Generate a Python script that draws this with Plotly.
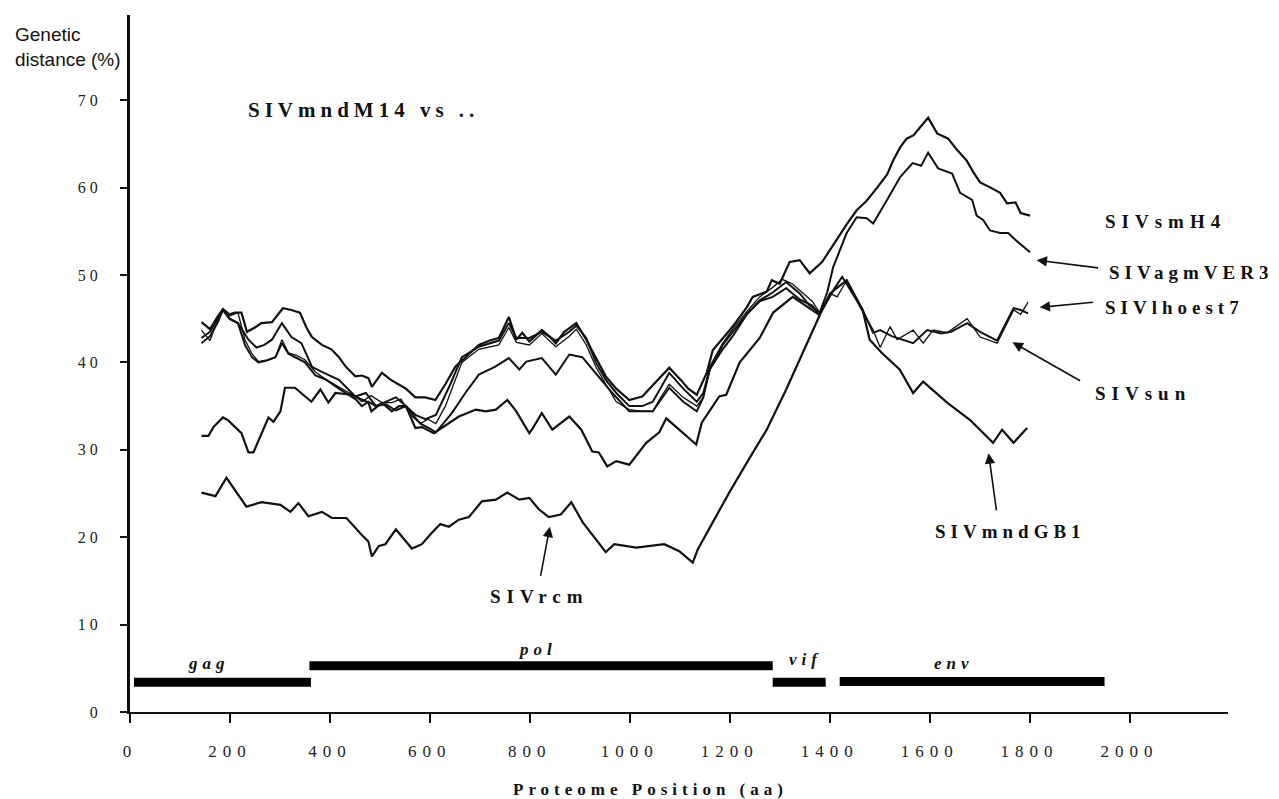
import plotly.graph_objects as go

# ---------------- data ----------------
smH4_x = [143,160,175,186,199,210,223,234,250,263,284,306,323,340,353,364,384,403,418,432,451,464,477,484,504,522,537,552,571,591,611,631,651,671,698,720,738,758,773,785,799,811,824,839,852,869,893,913,932,952,973,999,1025,1048,1079,1102,1117,1134,1154,1166,1186,1206,1234,1246,1274,1284,1300,1320,1340,1360,1385,1407,1434,1454,1474,1495,1515,1527,1541,1554,1568,1581,1597,1615,1637,1655,1674,1687,1701,1722,1741,1755,1772,1782,1801]
smH4_y = [44.6,43.8,45.2,46.1,45.5,45.7,45.7,43.5,44.0,44.5,44.6,46.2,46.0,45.7,44.0,42.9,42.0,41.5,40.6,39.5,38.4,38.5,38.2,37.2,38.8,38.0,37.5,37.0,36.0,36.0,35.7,37.5,39.5,40.6,42.0,42.5,42.8,45.2,42.6,43.4,42.4,43.0,43.7,43.0,42.2,43.5,44.5,42.6,40.5,38.4,37.0,35.7,36.1,37.5,39.4,38.0,37.0,36.3,38.8,41.4,42.8,44.1,46.3,47.5,48.1,49.4,49.0,51.5,51.7,50.2,51.5,53.5,55.8,57.4,58.5,60.0,61.5,63.1,64.6,65.6,66.0,66.9,68.0,66.2,65.6,64.3,63.1,61.8,60.6,60.0,59.4,58.2,58.3,57.1,56.8]

agm_x = [143,160,175,186,199,216,237,253,269,284,304,323,343,364,388,418,451,472,492,512,532,552,571,591,612,641,664,698,738,758,773,799,824,852,879,893,913,932,952,973,999,1025,1046,1079,1107,1134,1147,1160,1186,1206,1234,1260,1286,1313,1340,1360,1380,1395,1407,1434,1454,1474,1487,1515,1541,1566,1583,1597,1617,1645,1661,1685,1694,1707,1721,1741,1757,1772,1801]
agm_y = [42.2,43.0,44.5,46.0,45.0,44.5,42.6,41.7,42.0,42.6,44.5,42.9,42.2,39.5,38.8,38.0,36.1,36.5,35.0,35.5,36.0,35.0,34.0,33.5,34.0,37.5,40.6,41.8,42.5,44.5,42.8,42.8,43.5,42.5,43.5,44.2,42.8,40.0,38.0,36.5,35.0,35.0,35.5,38.8,37.0,35.5,36.5,39.2,42.0,43.5,45.5,47.1,48.0,49.2,47.9,46.5,45.7,48.0,50.9,54.8,56.6,56.5,55.9,58.6,61.2,62.8,62.5,64.0,62.2,61.6,59.4,58.6,56.8,56.3,55.1,54.8,54.8,54.0,52.6]

lhoest_x = [143,160,175,184,199,216,230,244,257,274,291,304,317,333,350,371,393,418,451,464,482,504,524,542,561,581,596,612,631,664,698,738,758,773,799,824,852,879,893,913,932,952,973,999,1025,1046,1062,1079,1107,1134,1147,1160,1186,1206,1234,1260,1284,1305,1325,1345,1365,1380,1401,1415,1434,1460,1487,1501,1521,1535,1567,1587,1607,1635,1675,1701,1735,1768,1782,1797]
lhoest_y = [43.7,42.5,44.8,46.0,45.3,45.7,42.6,41.0,40.1,40.3,40.6,42.6,41.1,40.8,40.3,38.9,38.0,37.2,36.1,35.5,36.2,35.4,35.4,35.8,34.0,33.0,33.5,33.0,35.0,40.0,41.5,42.0,44.0,42.3,42.0,43.3,41.8,43.0,43.8,42.0,39.5,37.5,35.5,34.6,34.4,34.4,36.0,37.5,36.0,35.0,36.0,39.5,42.2,43.8,45.8,47.5,48.5,49.5,49.0,48.0,47.0,45.7,47.9,47.5,49.4,46.4,43.7,41.7,44.1,42.6,43.7,42.2,43.7,43.4,45.0,42.9,42.2,46.0,45.5,46.9]

sun_x = [143,160,175,186,199,216,230,244,257,274,291,304,317,350,371,393,418,451,464,477,492,512,532,552,566,581,601,612,644,671,698,730,758,779,793,824,852,879,905,932,965,999,1046,1079,1107,1134,1147,1160,1186,1206,1234,1260,1286,1313,1340,1365,1380,1395,1410,1425,1444,1466,1487,1501,1524,1567,1595,1623,1643,1675,1701,1735,1768,1782,1797]
sun_y = [42.8,43.5,45.0,46.0,45.0,44.5,42.0,40.6,40.0,40.2,40.6,42.2,41.0,40.0,38.5,38.0,37.0,35.8,35.0,35.5,35.0,35.2,34.5,35.0,34.0,33.0,32.4,32.0,34.2,36.5,38.6,39.5,40.5,39.2,40.1,40.5,38.6,40.9,40.6,38.8,36.5,34.4,34.4,37.1,35.5,34.4,36.0,39.2,41.5,43.0,45.5,47.0,47.5,48.5,47.2,46.5,45.5,47.0,48.5,49.8,48.0,46.0,43.4,43.7,43.0,42.2,43.7,43.3,43.5,44.5,43.5,42.5,46.2,46.0,45.6]

mndGB1_x = [143,157,167,186,196,223,237,247,277,287,301,310,330,363,381,397,411,443,477,483,504,524,538,552,571,584,608,624,658,692,712,732,755,773,799,804,824,845,879,903,925,938,955,973,999,1033,1059,1073,1093,1133,1144,1179,1193,1220,1260,1287,1326,1354,1380,1401,1434,1466,1480,1504,1540,1567,1587,1635,1681,1727,1745,1768,1795]
mndGB1_y = [31.6,31.6,32.6,33.7,33.4,31.9,29.7,29.7,33.7,33.2,34.4,37.1,37.1,35.5,36.9,35.4,36.5,36.3,35.4,34.4,35.4,34.4,35.0,35.0,32.5,32.6,31.9,32.5,33.8,34.6,34.4,34.6,35.7,34.4,31.9,32.3,34.2,32.3,33.8,32.3,29.8,29.7,28.1,28.7,28.3,30.8,32.0,33.6,32.6,30.6,33.1,36.1,36.3,40.0,42.8,45.7,47.5,46.4,45.4,47.9,49.4,46.0,42.6,41.1,39.2,36.5,37.8,35.4,33.4,30.8,32.3,30.8,32.5]

rcm_x = [143,171,193,233,263,301,321,337,357,384,404,433,463,477,484,498,511,532,564,584,604,621,638,658,678,704,732,755,779,799,818,838,862,883,906,932,952,969,1013,1069,1099,1126,1136,1166,1199,1234,1274,1313,1354,1380]
rcm_y = [25.1,24.7,26.8,23.5,24.0,23.7,22.9,23.9,22.4,22.9,22.2,22.2,20.3,19.5,17.8,19.0,19.2,20.9,18.7,19.2,20.5,21.5,21.2,22.0,22.3,24.1,24.3,25.1,24.3,24.5,23.2,22.3,22.6,24.0,21.7,19.7,18.3,19.2,18.8,19.2,18.4,17.1,18.6,21.7,25.1,28.5,32.3,36.9,42.2,45.4]

series_names = ["SIVsmH4", "SIVagmVER3", "SIVlhoest7", "SIVsun", "SIVmndGB1", "SIVrcm"]

# gene map
gene_names = ["gag", "pol", "vif", "env"]
gene_start = [8, 359, 1286, 1420]
gene_end = [362, 1286, 1392, 1950]
gene_level = [3.4, 5.3, 3.4, 3.5]
gene_label_x = [159, 816, 1352, 1648]
gene_label_y = [5.5, 7.2, 6.0, 5.5]

x_ticks = [0, 200, 400, 600, 800, 1000, 1200, 1400, 1600, 1800, 2000]
y_ticks = [0, 10, 20, 30, 40, 50, 60, 70]

# ---------------- figure ----------------
fig = go.Figure()

INK = "#111111"
series = [
    (smH4_x, smH4_y, 2.2),
    (agm_x, agm_y, 2.0),
    (lhoest_x, lhoest_y, 1.3),
    (sun_x, sun_y, 2.0),
    (mndGB1_x, mndGB1_y, 2.2),
    (rcm_x, rcm_y, 2.2),
]
for (xs, ys, w), nm in zip(series, series_names):
    fig.add_trace(go.Scatter(x=xs, y=ys, mode="lines", name=nm,
                             line=dict(color=INK, width=w), showlegend=False,
                             hoverinfo="skip"))

for nm, s, e, lv in zip(gene_names, gene_start, gene_end, gene_level):
    fig.add_trace(go.Scatter(x=[s, e], y=[lv, lv], mode="lines", name=nm,
                             line=dict(color="black", width=9), showlegend=False,
                             hoverinfo="skip"))

SERIF = "Liberation Serif"


def spaced(text, px):
    return '<span style="letter-spacing:%dpx">%s</span>' % (px, text)


ann = []
for lab, gx, gy in zip(gene_names, gene_label_x, gene_label_y):
    ann.append(dict(x=gx, y=gy, xref="x", yref="y",
                    text="<b><i>%s</i></b>" % spaced(lab, 5),
                    showarrow=False, font=dict(family=SERIF, size=17, color=INK)))


def label(text, x, y, xanchor="left", size=19, sp=6):
    ann.append(dict(x=x, y=y, xref="x", yref="y", text="<b>%s</b>" % spaced(text, sp),
                    showarrow=False, xanchor=xanchor, yanchor="middle",
                    font=dict(family=SERIF, size=size, color=INK)))


def arrow(hx, hy, tx, ty):
    ann.append(dict(x=hx, y=hy, ax=tx, ay=ty, xref="x", yref="y", axref="x", ayref="y",
                    text="", showarrow=True, arrowhead=2, arrowsize=1.3,
                    arrowwidth=1.6, arrowcolor=INK))


label("SIVmndM14 vs ..", 233, 68.9, size=21, sp=5)
label("SIVsmH4", 1946, 56.1)
label("SIVagmVER3", 1954, 50.3, sp=5)
arrow(1814, 51.7, 1940, 50.8)
label("SIVlhoest7", 1946, 46.3, sp=5)
arrow(1820, 46.3, 1930, 46.9)
label("SIVsun", 1926, 36.5)
arrow(1766, 42.3, 1904, 37.8)
label("SIVmndGB1", 1762, 20.6, xanchor="center", sp=5)
arrow(1718, 29.6, 1734, 22.9)
label("SIVrcm", 819, 13.2, xanchor="center")
arrow(840, 21.2, 821, 15.4)

# axis titles
ann.append(dict(x=-0.1066, y=0.954, xref="paper", yref="paper",
                text="Genetic<br>distance (%)", showarrow=False, xanchor="left",
                yanchor="middle", align="left",
                font=dict(family="Liberation Sans", size=19, color=INK)))
ann.append(dict(x=0.4736, y=-0.1105, xref="paper", yref="paper",
                text="<b>%s</b>" % spaced("Proteome Position (aa)", 5), showarrow=False,
                xanchor="center", yanchor="middle",
                font=dict(family=SERIF, size=17, color=INK)))

# the page adds an 8 px body margin, so the figure is 8 px smaller than the window
fig.update_layout(
    width=1271, height=791, autosize=False,
    margin=dict(l=122, r=51, t=7, b=87, pad=0),
    paper_bgcolor="white", plot_bgcolor="white",
    annotations=ann,
    xaxis=dict(range=[0, 2197], showgrid=False, zeroline=False,
               showline=True, linecolor=INK, linewidth=2,
               ticks="outside", ticklen=9, tickwidth=1.5, tickcolor=INK,
               tickvals=x_ticks, ticktext=[spaced(str(v), 6) for v in x_ticks],
               ticklabelstandoff=14,
               tickfont=dict(family=SERIF, size=17, color="#222222")),
    yaxis=dict(range=[0, 79.75], showgrid=False, zeroline=False,
               showline=True, linecolor=INK, linewidth=3,
               ticks="outside", ticklen=7, tickwidth=2, tickcolor=INK,
               tickvals=y_ticks, ticktext=[spaced(str(v), 4) for v in y_ticks],
               ticklabelstandoff=15,
               tickfont=dict(family=SERIF, size=16, color="#222222")),
)

fig.write_html("out.html")
